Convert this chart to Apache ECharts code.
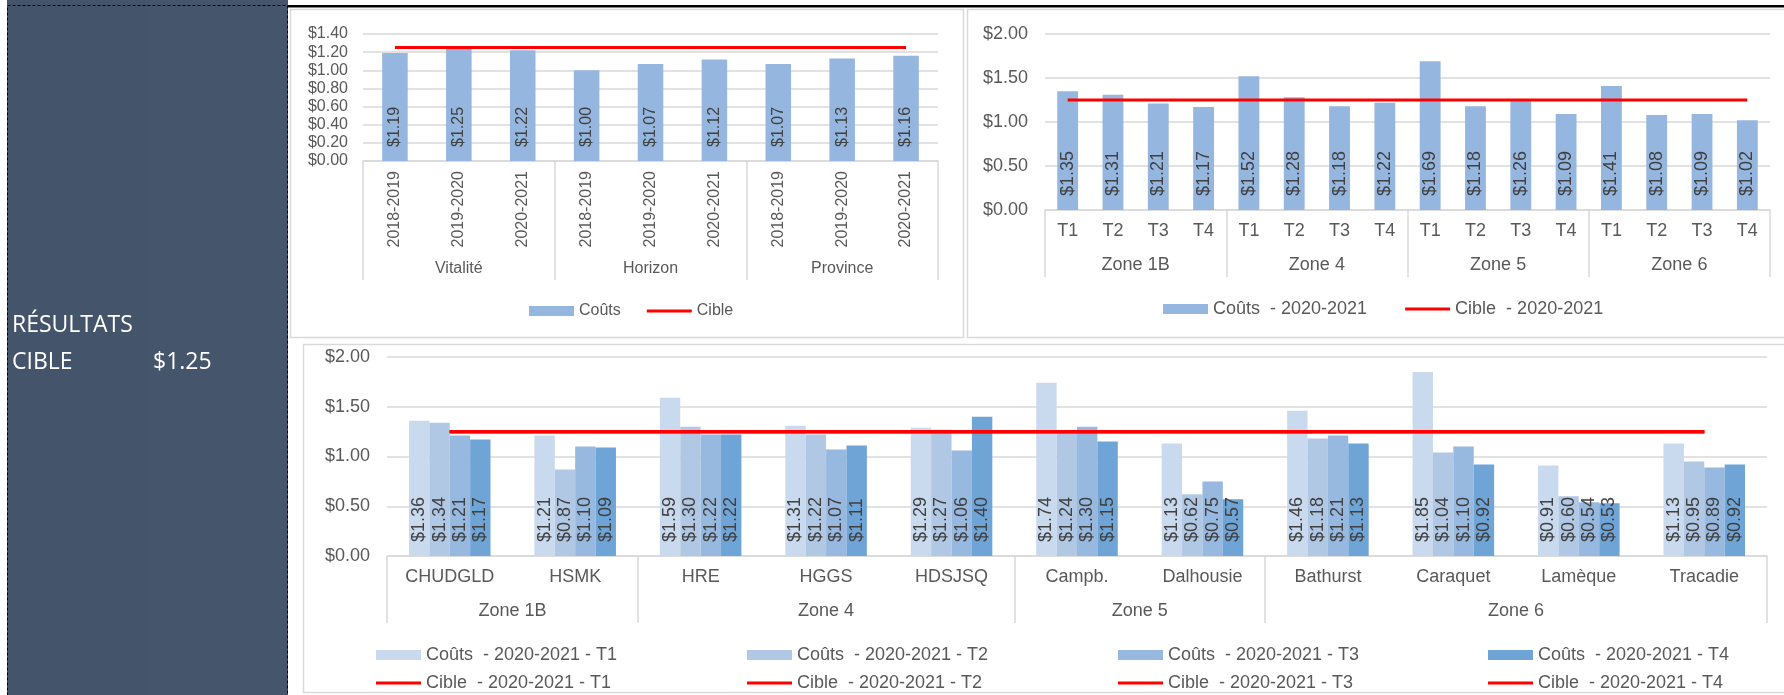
<!DOCTYPE html>
<html>
<head>
<meta charset="utf-8">
<script src="https://cdn.jsdelivr.net/npm/echarts@6/dist/echarts.min.js"></script>
<style>
  html, body { margin: 0; padding: 0; background: #fff; }
  #dash { width: 1784px; height: 695px; }
</style>
</head>
<body>
<div id="dash"></div>
<script>
/* tableau de bord — coûts vs cible */

// graphique 1 : régies, trois exercices
const regies = ['Vitalité', 'Horizon', 'Province'];
const exercices = ['2018-2019', '2019-2020', '2020-2021'];
const coutsRegies = [1.19, 1.25, 1.22, 1.00, 1.07, 1.12, 1.07, 1.13, 1.16];

// graphique 2 : zones par trimestre 2020-2021
const zones = ['Zone 1B', 'Zone 4', 'Zone 5', 'Zone 6'];
const trimestres = ['T1', 'T2', 'T3', 'T4'];
const coutsZones = [1.35, 1.31, 1.21, 1.17, 1.52, 1.28, 1.18, 1.22, 1.69, 1.18, 1.26, 1.09, 1.41, 1.08, 1.09, 1.02];

// graphique 3 : établissements par trimestre
const sites = ['CHUDGLD', 'HSMK', 'HRE', 'HGGS', 'HDSJSQ', 'Campb.', 'Dalhousie', 'Bathurst', 'Caraquet', 'Lamèque', 'Tracadie'];
const sitesParZone = [2, 3, 2, 4];
const coutsT1 = [1.36, 1.21, 1.59, 1.31, 1.29, 1.74, 1.13, 1.46, 1.85, 0.91, 1.13];
const coutsT2 = [1.34, 0.87, 1.30, 1.22, 1.27, 1.24, 0.62, 1.18, 1.04, 0.60, 0.95];
const coutsT3 = [1.21, 1.10, 1.22, 1.07, 1.06, 1.30, 0.75, 1.21, 1.10, 0.54, 0.89];
const coutsT4 = [1.17, 1.09, 1.22, 1.11, 1.40, 1.15, 0.57, 1.13, 0.92, 0.53, 0.92];

const cible = 1.25;

const FONT = '"Liberation Sans", Arial, sans-serif';
const TXT = '#595959';
const GRID = '#D9D9D9';
const RED = '#FF0000';
const BLUE = '#95B7DF';
const TCOLORS = ['#C9D9EE', '#B1C8E5', '#97B8DF', '#6FA4D7'];
const LINE_ICON = 'path://M0 0H45V3H0Z';

const money = (v) => '$' + Number(v).toFixed(2);

function valAxis(gridIndex, max, interval, fs, margin) {
  return {
    type: 'value', gridIndex, min: 0, max, interval,
    axisLine: { show: false }, axisTick: { show: false },
    splitLine: { lineStyle: { color: GRID, width: 1.5 } },
    axisLabel: { margin, color: TXT, fontSize: fs, fontFamily: FONT, formatter: money },
  };
}

function catAxis(gridIndex, data, fs, margin, rotate) {
  return {
    type: 'category', gridIndex, position: 'bottom', data,
    axisLine: { lineStyle: { color: GRID, width: 1.5 } },
    axisTick: { show: false },
    axisLabel: { interval: 0, rotate, margin, color: TXT, fontSize: fs, fontFamily: FONT },
  };
}

// niveau 2 de l'axe : séparateurs + noms de groupe
function groupAxis(gridIndex, names, sizes, fs, margin, tickLen) {
  const bounds = [0];
  const centers = [];
  sizes.forEach((n, i) => {
    centers.push(bounds[i] + n / 2);
    bounds.push(bounds[i] + n);
  });
  return {
    type: 'value', gridIndex, position: 'bottom', min: 0, max: bounds[bounds.length - 1],
    axisLine: { show: false }, splitLine: { show: false },
    axisTick: { show: true, customValues: bounds, length: tickLen, lineStyle: { color: GRID, width: 1.5 } },
    axisLabel: {
      customValues: centers, margin, color: TXT, fontSize: fs, fontFamily: FONT,
      formatter: (v) => names[centers.indexOf(v)] || '',
    },
  };
}

const barLabel = (fs) => ({
  show: true, position: 'insideBottom', rotate: 90, align: 'left', verticalAlign: 'middle',
  distance: 14, color: '#404040', fontSize: fs, fontFamily: FONT,
  formatter: (p) => money(p.value),
});

const cibleLine = (name, xi, yi, n) => ({
  name, type: 'line', xAxisIndex: xi, yAxisIndex: yi,
  data: new Array(n).fill(cible),
  symbol: 'none', lineStyle: { color: RED, width: 3 }, itemStyle: { color: RED },
  z: 5,
});

const catsRegies = regies.flatMap(() => exercices);
const catsZones = zones.flatMap(() => trimestres);
const coutsSites = [coutsT1, coutsT2, coutsT3, coutsT4];

const series = [
  {
    name: 'Coûts', type: 'bar', xAxisIndex: 0, yAxisIndex: 0, data: coutsRegies,
    barWidth: '40%', itemStyle: { color: BLUE }, label: barLabel(16),
  },
  cibleLine('Cible', 0, 0, coutsRegies.length),
  {
    name: 'Coûts  - 2020-2021', type: 'bar', xAxisIndex: 2, yAxisIndex: 1, data: coutsZones,
    barWidth: '46%', itemStyle: { color: BLUE }, label: barLabel(18),
  },
  cibleLine('Cible  - 2020-2021', 2, 1, coutsZones.length),
];
trimestres.forEach((t, i) => {
  series.push({
    name: 'Coûts  - 2020-2021 - ' + t, type: 'bar', xAxisIndex: 4, yAxisIndex: 2,
    data: coutsSites[i], barGap: '0%', barCategoryGap: '35%',
    itemStyle: { color: TCOLORS[i] }, label: barLabel(18),
  });
});
trimestres.forEach((t) => series.push(cibleLine('Cible  - 2020-2021 - ' + t, 4, 2, sites.length)));

function legend(left, top, fs, gap, items) {
  return {
    left, top, itemGap: gap, itemWidth: 45, itemHeight: 10,
    textStyle: { color: TXT, fontSize: fs, fontFamily: FONT },
    data: items.map((name) => (name.startsWith('Cible') ? { name, icon: LINE_ICON } : { name, icon: 'rect' })),
  };
}

const legends = [
  legend(524, 298, 16, 26, ['Coûts', 'Cible']),
  legend(1158, 295, 18, 38, ['Coûts  - 2020-2021', 'Cible  - 2020-2021']),
];
[371, 742, 1113, 1483].forEach((x, i) => {
  legends.push(legend(x, 641, 18, 10, ['Coûts  - 2020-2021 - ' + trimestres[i]]));
  legends.push(legend(x, 669, 18, 10, ['Cible  - 2020-2021 - ' + trimestres[i]]));
});

const box = (x, y, w, h) => ({
  type: 'rect', z: -5, silent: true,
  shape: { x, y, width: w, height: h },
  style: { fill: '#fff', stroke: GRID, lineWidth: 1.5 },
});

const panelFont = '23px "Open Sans", "DejaVu Sans", sans-serif';
const panelText = (x, y, text) => ({
  type: 'text', x, y, silent: true,
  style: { text, fill: '#fff', font: panelFont, verticalAlign: 'middle' },
});

const option = {
  backgroundColor: '#fff',
  animation: false,
  graphic: [
    { type: 'rect', z: -10, silent: true, shape: { x: 7, y: 0, width: 141, height: 695 }, style: { fill: '#44546A' } },
    { type: 'rect', z: -10, silent: true, shape: { x: 148, y: 0, width: 140, height: 695 }, style: { fill: '#45556B' } },
    { type: 'rect', z: -9, silent: true, shape: { x: 7.5, y: 5.5, width: 280, height: 700 },
      style: { fill: 'none', stroke: '#000', lineWidth: 1, lineDash: [3, 2] } },
    { type: 'rect', z: -9, silent: true, shape: { x: 288, y: 5, width: 1496, height: 2.5 }, style: { fill: '#000' } },
    box(290.5, 9.5, 673, 328),
    box(967.5, 9.5, 830, 328),
    box(303.5, 344.5, 1490, 348),
    panelText(12, 325, 'RÉSULTATS'),
    panelText(12, 362, 'CIBLE'),
    panelText(153, 362, money(cible)),
  ],
  legend: legends,
  grid: [
    { left: 363, top: 34, width: 575, height: 127 },
    { left: 1045, top: 34, width: 725, height: 176 },
    { left: 387, top: 357, width: 1380, height: 199 },
  ],
  xAxis: [
    catAxis(0, catsRegies, 16, 10, 90),
    groupAxis(0, regies, regies.map(() => exercices.length), 16, 100, 119),
    catAxis(1, catsZones, 18, 12, 0),
    groupAxis(1, zones, zones.map(() => trimestres.length), 18, 46, 67),
    catAxis(2, sites, 18, 12, 0),
    groupAxis(2, zones, sitesParZone, 18, 46, 67),
  ],
  yAxis: [
    valAxis(0, 1.4, 0.2, 16, 15),
    valAxis(1, 2, 0.5, 18, 17),
    valAxis(2, 2, 0.5, 18, 17),
  ],
  series,
};

const chart = echarts.init(document.getElementById('dash'), null, { renderer: 'canvas' });
chart.setOption(option);
window.addEventListener('resize', () => chart.resize());
</script>
</body>
</html>
